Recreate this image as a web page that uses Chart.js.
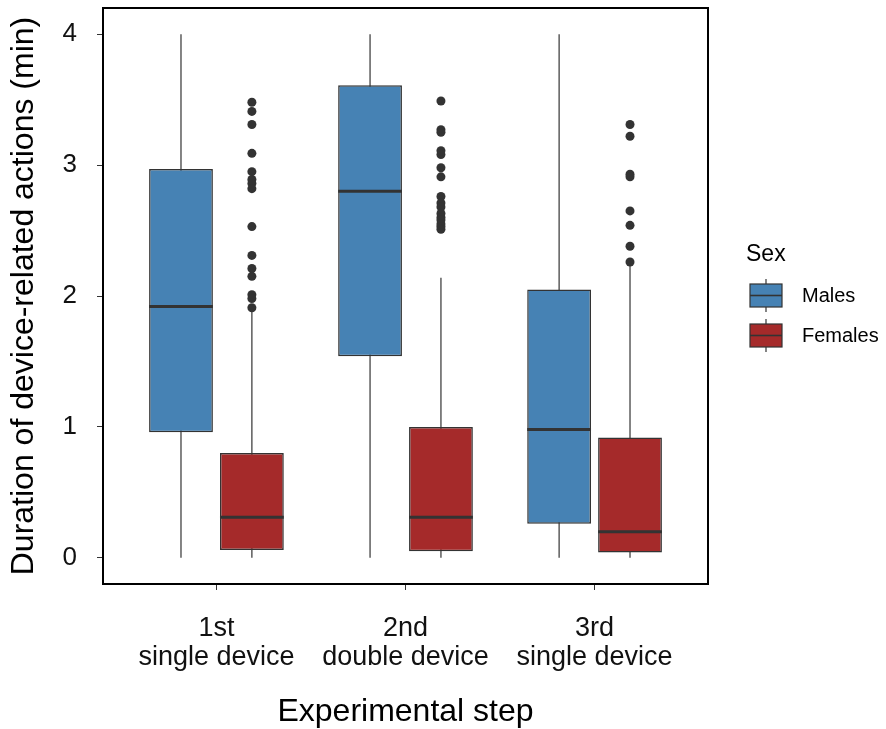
<!DOCTYPE html>
<html>
<head>
<meta charset="utf-8">
<title>Duration of device-related actions</title>
<script src="https://cdn.jsdelivr.net/npm/chart.js@4.4.1/dist/chart.umd.min.js"></script>
<style>
  html, body { margin: 0; padding: 0; background: #ffffff; }
  canvas { display: block; }
</style>
</head>
<body>
<canvas id="grafico" width="886" height="729"></canvas>
<script>
// categories on the x axis (two lines each)
var steps = ['1st', '2nd', '3rd'];
var stepTypes = ['single device', 'double device', 'single device'];
var yTicks = [0, 1, 2, 3, 4];

// males: whisker ends, quartiles and median (min)
var maleMin = [0, 0, 0];
var maleQ1 = [0.96, 1.54, 0.26];
var maleMedian = [1.92, 2.80, 0.98];
var maleQ3 = [2.97, 3.61, 2.05];
var maleMax = [4, 4, 4];

// females
var femaleMin = [0, 0, 0];
var femaleQ1 = [0.06, 0.05, 0.04];
var femaleMedian = [0.31, 0.31, 0.20];
var femaleQ3 = [0.80, 1.00, 0.92];
var femaleMax = [1.88, 2.14, 2.25];

// female outliers, one list per step
var femaleOut1 = [3.48, 3.41, 3.31, 3.09, 2.95, 2.89, 2.86, 2.82, 2.53, 2.31, 2.21, 2.15, 2.01, 1.98, 1.91];
var femaleOut2 = [3.49, 3.27, 3.25, 3.11, 3.08, 2.98, 2.91, 2.76, 2.71, 2.68, 2.63, 2.60, 2.58, 2.55, 2.53, 2.51];
var femaleOut3 = [3.31, 3.22, 2.93, 2.91, 2.65, 2.54, 2.38, 2.26];

var legendTitle = 'Sex';
var fontFam = '"Liberation Sans", Arial, Helvetica, sans-serif';
var catPerc = 0.75;

Chart.defaults.font.family = fontFam;

function boxData(q1, q3) {
    var out = [];
    for (var i = 0; i < q1.length; i++)
        out.push({x: i + 1, y: [q1[i], q3[i]]});
    return out;
}

// outliers sit on the female box centre (right half of the group)
function outlierData(lists, side) {
    var dodge = side * catPerc / 4;
    var out = [];
    lists.forEach(function(l, i) {
        l.forEach(function(v) { out.push({x: i + 1 + dodge, y: v}); });
    });
    return out;
}

// whiskers under the boxes, medians over them, then the panel frame
var boxPlugin = {
    id: 'boxplot',
    beforeDatasetsDraw: function(chart) {
        var ctx = chart.ctx, ys = chart.scales.y;
        ctx.save();
        ctx.strokeStyle = '#333333';
        ctx.lineWidth = 1.2;
        chart.data.datasets.forEach(function(ds, di) {
            if (ds.type !== 'bar') return;
            chart.getDatasetMeta(di).data.forEach(function(bar, j) {
                ctx.beginPath();
                ctx.moveTo(bar.x, ys.getPixelForValue(ds.lo[j]));
                ctx.lineTo(bar.x, ys.getPixelForValue(ds.hi[j]));
                ctx.stroke();
            });
        });
        ctx.restore();
    },
    afterDatasetsDraw: function(chart) {
        var ctx = chart.ctx, ys = chart.scales.y, a = chart.chartArea;
        ctx.save();
        ctx.strokeStyle = '#333333';
        ctx.lineWidth = 3;
        chart.data.datasets.forEach(function(ds, di) {
            if (ds.type !== 'bar') return;
            chart.getDatasetMeta(di).data.forEach(function(bar, j) {
                var y = ys.getPixelForValue(ds.med[j]);
                ctx.beginPath();
                ctx.moveTo(bar.x - bar.width / 2, y);
                ctx.lineTo(bar.x + bar.width / 2, y);
                ctx.stroke();
            });
        });
        ctx.strokeStyle = '#000000';
        ctx.lineWidth = 2;
        ctx.strokeRect(a.left, a.top, a.right - a.left, a.bottom - a.top);
        ctx.restore();
    }
};

// legend with small box glyphs like the original
var legendPlugin = {
    id: 'legendaSesso',
    afterDraw: function(chart) {
        var ctx = chart.ctx, a = chart.chartArea;
        var x0 = a.right + 42;
        var mid = (a.top + a.bottom) / 2;
        ctx.save();
        ctx.textAlign = 'left';
        ctx.textBaseline = 'middle';
        ctx.fillStyle = '#000000';
        ctx.font = '23px ' + fontFam;
        ctx.fillText(legendTitle, x0 - 4, mid - 41);
        var k = 0;
        chart.data.datasets.forEach(function(ds) {
            if (ds.type !== 'bar') return;
            var top = mid - 12 + k * 40;
            ctx.strokeStyle = '#333333';
            ctx.lineWidth = 1.2;
            ctx.beginPath();
            ctx.moveTo(x0 + 16, top - 5);
            ctx.lineTo(x0 + 16, top + 28);
            ctx.stroke();
            ctx.fillStyle = ds.backgroundColor;
            ctx.fillRect(x0, top, 32, 23);
            ctx.strokeRect(x0, top, 32, 23);
            ctx.lineWidth = 1.6;
            ctx.beginPath();
            ctx.moveTo(x0, top + 11.5);
            ctx.lineTo(x0 + 32, top + 11.5);
            ctx.stroke();
            ctx.fillStyle = '#000000';
            ctx.font = '20px ' + fontFam;
            ctx.fillText(ds.label, x0 + 52, top + 12);
            k++;
        });
        ctx.restore();
    }
};

var ctxG = document.getElementById('grafico').getContext('2d');
new Chart(ctxG, {
    type: 'bar',
    data: {
        datasets: [{
            type: 'bar',
            label: 'Males',
            data: boxData(maleQ1, maleQ3),
            lo: maleMin, hi: maleMax, med: maleMedian,
            backgroundColor: '#4682B4',
            borderColor: '#333333',
            borderWidth: 1.5,
            borderSkipped: false,
            categoryPercentage: catPerc,
            barPercentage: 0.9
        }, {
            type: 'bar',
            label: 'Females',
            data: boxData(femaleQ1, femaleQ3),
            lo: femaleMin, hi: femaleMax, med: femaleMedian,
            backgroundColor: '#A52A2A',
            borderColor: '#333333',
            borderWidth: 1.5,
            borderSkipped: false,
            categoryPercentage: catPerc,
            barPercentage: 0.9
        }, {
            type: 'scatter',
            label: 'Females outliers',
            data: outlierData([femaleOut1, femaleOut2, femaleOut3], 1),
            backgroundColor: '#333333',
            borderWidth: 0,
            pointRadius: 4.5
        }]
    },
    options: {
        responsive: false,
        animation: false,
        events: [],
        layout: { padding: { top: 8, right: 178, bottom: 0, left: 0 } },
        plugins: {
            legend: { display: false },
            tooltip: { enabled: false }
        },
        scales: {
            x: {
                type: 'linear',
                min: 0.4,
                max: 3.6,
                offset: false,
                afterBuildTicks: function(s) {
                    s.ticks = steps.map(function(c, i) { return {value: i + 1}; });
                },
                afterFit: function(s) { s.height = 145; s.paddingLeft = 0; s.paddingRight = 0; },
                ticks: {
                    callback: function(v) { var i = Math.round(v) - 1; return [steps[i], stepTypes[i]]; },
                    font: { size: 27, lineHeight: 1.07 },
                    color: '#111111',
                    padding: 24,
                    autoSkip: false,
                    maxRotation: 0
                },
                grid: { drawOnChartArea: false, tickLength: 6, color: '#333333', offset: false },
                border: { display: false },
                title: { display: true, text: 'Experimental step', font: { size: 32 }, color: '#000000', padding: { top: 0, bottom: -2 } }
            },
            y: {
                min: -0.2,
                max: 4.2,
                afterBuildTicks: function(s) {
                    s.ticks = yTicks.map(function(v) { return {value: v}; });
                },
                afterFit: function(s) { s.width = 103; s.paddingTop = 0; s.paddingBottom = 0; },
                ticks: { font: { size: 26 }, color: '#111111', padding: 20 },
                grid: { drawOnChartArea: false, tickLength: 6, color: '#333333' },
                border: { display: false },
                title: { display: true, text: 'Duration of device-related actions (min)', font: { size: 32 }, color: '#000000', padding: { top: 5, bottom: 0 } }
            }
        }
    },
    plugins: [boxPlugin, legendPlugin]
});
</script>
</body>
</html>
